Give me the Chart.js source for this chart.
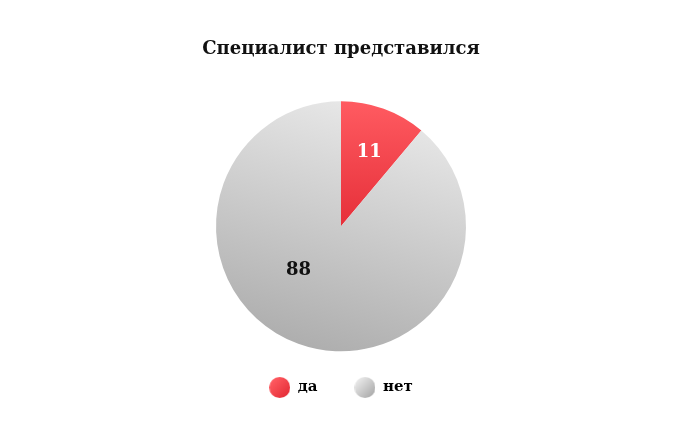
<!DOCTYPE html>
<html>
<head>
<meta charset="utf-8">
<script src="https://cdn.jsdelivr.net/npm/chart.js@4.4.1/dist/chart.umd.min.js"></script>
<style>
  html, body { margin: 0; padding: 0; background: #fff; }
  #wrap { width: 682px; height: 433px; }
</style>
</head>
<body>
<div id="wrap"><canvas id="pie"></canvas></div>
<script>
const chartTitle = "Специалист представился";
const labels = ["да", "нет"];
const values = [11, 88];

const FONT = "'DejaVu Serif', serif";

// gradient stops per slice: [light, dark]
const sliceColors = [
  ["#ff5b61", "#e62f39"],
  ["#e9e9e9", "#adadad"],
];

function sliceGradient(context) {
  const chart = context.chart;
  const i = context.dataIndex;
  const area = chart.chartArea;
  if (!area) return sliceColors[i][1];
  const ctx = chart.ctx;
  const cx = (area.left + area.right) / 2;
  const cy = (area.top + area.bottom) / 2;
  const r = 125;
  let g;
  if (i === 0) g = ctx.createLinearGradient(cx, cy - r, cx, cy);
  else g = ctx.createLinearGradient(cx + 0.3 * r, cy - r, cx - 0.3 * r, cy + r);
  g.addColorStop(0, sliceColors[i][0]);
  g.addColorStop(1, sliceColors[i][1]);
  return g;
}

// small round image used as legend marker
function legendDot(i) {
  const c = document.createElement("canvas");
  c.width = 21;
  c.height = 21;
  const x = c.getContext("2d");
  const g = x.createLinearGradient(3, 3, 18, 18);
  g.addColorStop(0, sliceColors[i][0]);
  g.addColorStop(1, sliceColors[i][1]);
  x.fillStyle = g;
  x.beginPath();
  x.arc(10.5, 10.5, 10.5, 0, Math.PI * 2);
  x.fill();
  return c;
}

const valueLabels = {
  id: "valueLabels",
  afterDatasetsDraw(chart, args, opts) {
    const ctx = chart.ctx;
    const meta = chart.getDatasetMeta(0);
    ctx.save();
    ctx.font = "bold 18px " + FONT;
    ctx.textAlign = "center";
    ctx.textBaseline = "middle";
    meta.data.forEach((arc, i) => {
      const p = arc.getProps(["x", "y", "startAngle", "endAngle", "outerRadius"]);
      const a = (p.startAngle + p.endAngle) / 2 + (opts.turn[i] * Math.PI) / 180;
      const d = p.outerRadius * opts.radius[i];
      ctx.fillStyle = opts.colors[i];
      ctx.fillText(values[i], p.x + Math.cos(a) * d, p.y + Math.sin(a) * d);
    });
    ctx.restore();
  },
};

new Chart(document.getElementById("pie"), {
  type: "pie",
  data: {
    labels: labels,
    datasets: [
      {
        data: values,
        backgroundColor: sliceGradient,
        borderWidth: 0,
        radius: 125,
      },
    ],
  },
  options: {
    responsive: true,
    maintainAspectRatio: false,
    animation: false,
    layout: { padding: { top: 0, bottom: 28 } },
    plugins: {
      title: {
        display: true,
        text: chartTitle,
        color: "#111",
        font: { family: FONT, size: 18, weight: "bold", lineHeight: 1.2 },
        padding: { top: 39, bottom: 49 },
      },
      legend: {
        position: "bottom",
        labels: {
          usePointStyle: true,
          pointStyleWidth: 21,
          padding: 37,
          color: "#111",
          font: { family: FONT, size: 15, weight: "bold" },
          generateLabels: (chart) =>
            labels.map((t, i) => ({
              text: t,
              pointStyle: legendDot(i),
              fillStyle: sliceColors[i][0],
              strokeStyle: "transparent",
              lineWidth: 0,
              hidden: false,
              index: i,
            })),
        },
      },
      tooltip: { enabled: false },
      valueLabels: {
        radius: [0.63, 0.49],
        turn: [1, 24],
        colors: ["#fff", "#111"],
      },
    },
  },
  plugins: [valueLabels],
});
</script>
</body>
</html>
